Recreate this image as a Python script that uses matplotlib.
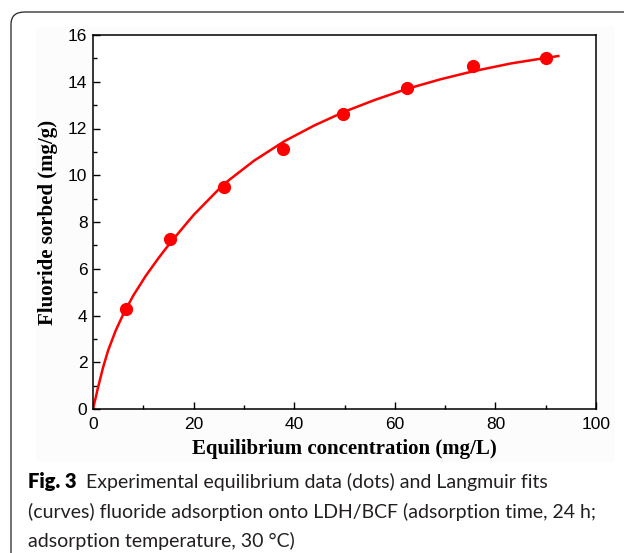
import matplotlib
matplotlib.use("Agg")
import matplotlib.pyplot as plt
from matplotlib.patches import FancyBboxPatch, Rectangle
from matplotlib.ticker import MultipleLocator

# experimental equilibrium data (dots)
conc = [6.5, 15.4, 26.0, 37.8, 49.7, 62.5, 75.6, 90.0]
sorbed = [4.26, 7.27, 9.48, 11.14, 12.64, 13.75, 14.67, 15.0]

# Langmuir fit curve
fit_conc = [0, 1, 2, 3, 4.5, 6, 8, 10.5, 13, 15.4, 20, 26, 32, 38, 44, 50,
            56, 62.5, 69, 75.6, 83, 90, 92.5]
fit_sorbed = [0, 0.92, 1.78, 2.5, 3.35, 4.05, 4.85, 5.7, 6.45, 7.12, 8.3, 9.62,
              10.62, 11.45, 12.13, 12.72, 13.22, 13.7, 14.1, 14.45, 14.78, 15.02, 15.1]

xticks = [0, 20, 40, 60, 80, 100]
yticks = [0, 2, 4, 6, 8, 10, 12, 14, 16]

fig = plt.figure(figsize=(6.24, 5.53), dpi=100)

# faint grey backdrop of the pasted chart image
fig.patches.append(Rectangle((36 / 624, 1 - 462 / 553), (615 - 36) / 624, (462 - 27) / 553,
                             transform=fig.transFigure, facecolor="#fcfcfc",
                             edgecolor="none", zorder=-10))
# rounded frame around the figure
frame = FancyBboxPatch((11 / 624, -0.1), 1.2, 1.1 - 12 / 553,
                       boxstyle="round,pad=0,rounding_size=0.022",
                       transform=fig.transFigure, fill=False,
                       edgecolor="#222222", linewidth=0.9, clip_on=False, zorder=-5)
fig.patches.append(frame)

ax = fig.add_axes([93 / 624, 1 - 409 / 553, (596 - 93) / 624, (409 - 35) / 553])
ax.plot(fit_conc, fit_sorbed, color="red", linewidth=1.8, zorder=2)
ax.plot(conc, sorbed, "o", color="red", markersize=8.5, zorder=3)

ax.set_xlim(0, 100)
ax.set_ylim(0, 16)
ax.set_xticks(xticks)
ax.set_yticks(yticks)
ax.xaxis.set_minor_locator(MultipleLocator(10))
ax.yaxis.set_minor_locator(MultipleLocator(1))
ax.tick_params(which="both", direction="in", top=False, right=False,
               labelsize=12.5, width=1.0, pad=4)
ax.tick_params(axis="x", which="major", pad=6)
ax.tick_params(which="major", length=5)
ax.tick_params(which="minor", length=3)
for lab in ax.get_xticklabels() + ax.get_yticklabels():
    lab.set_family("Liberation Sans")
for sp in ax.spines.values():
    sp.set_linewidth(1.1)

ax.set_xlabel("Equilibrium concentration (mg/L)", family="Liberation Serif",
              fontweight="bold", fontsize=15, labelpad=5)
ax.set_ylabel("Fluoride sorbed (mg/g)", family="Liberation Serif",
              fontweight="bold", fontsize=15, labelpad=7)

# caption
cap_font = "Lato"
cap_size = 14
t1 = fig.text(28 / 624, 1 - 488 / 553, "Fig. 3", fontsize=cap_size + 0.5,
              fontweight="heavy", family=cap_font, color="black")
fig.canvas.draw()
bb = t1.get_window_extent()
fig.text((bb.x1 + 9) / 624, 1 - 488 / 553,
         "Experimental equilibrium data (dots) and Langmuir fits",
         fontsize=cap_size, family=cap_font, color="#231f20")
fig.text(28 / 624, 1 - 518 / 553,
         "(curves) fluoride adsorption onto LDH/BCF (adsorption time, 24 h;",
         fontsize=cap_size, family=cap_font, color="#231f20")
fig.text(28 / 624, 1 - 547 / 553, "adsorption temperature, 30 \u00b0C)",
         fontsize=cap_size, family=cap_font, color="#231f20")

fig.savefig("out.png", dpi=100)
